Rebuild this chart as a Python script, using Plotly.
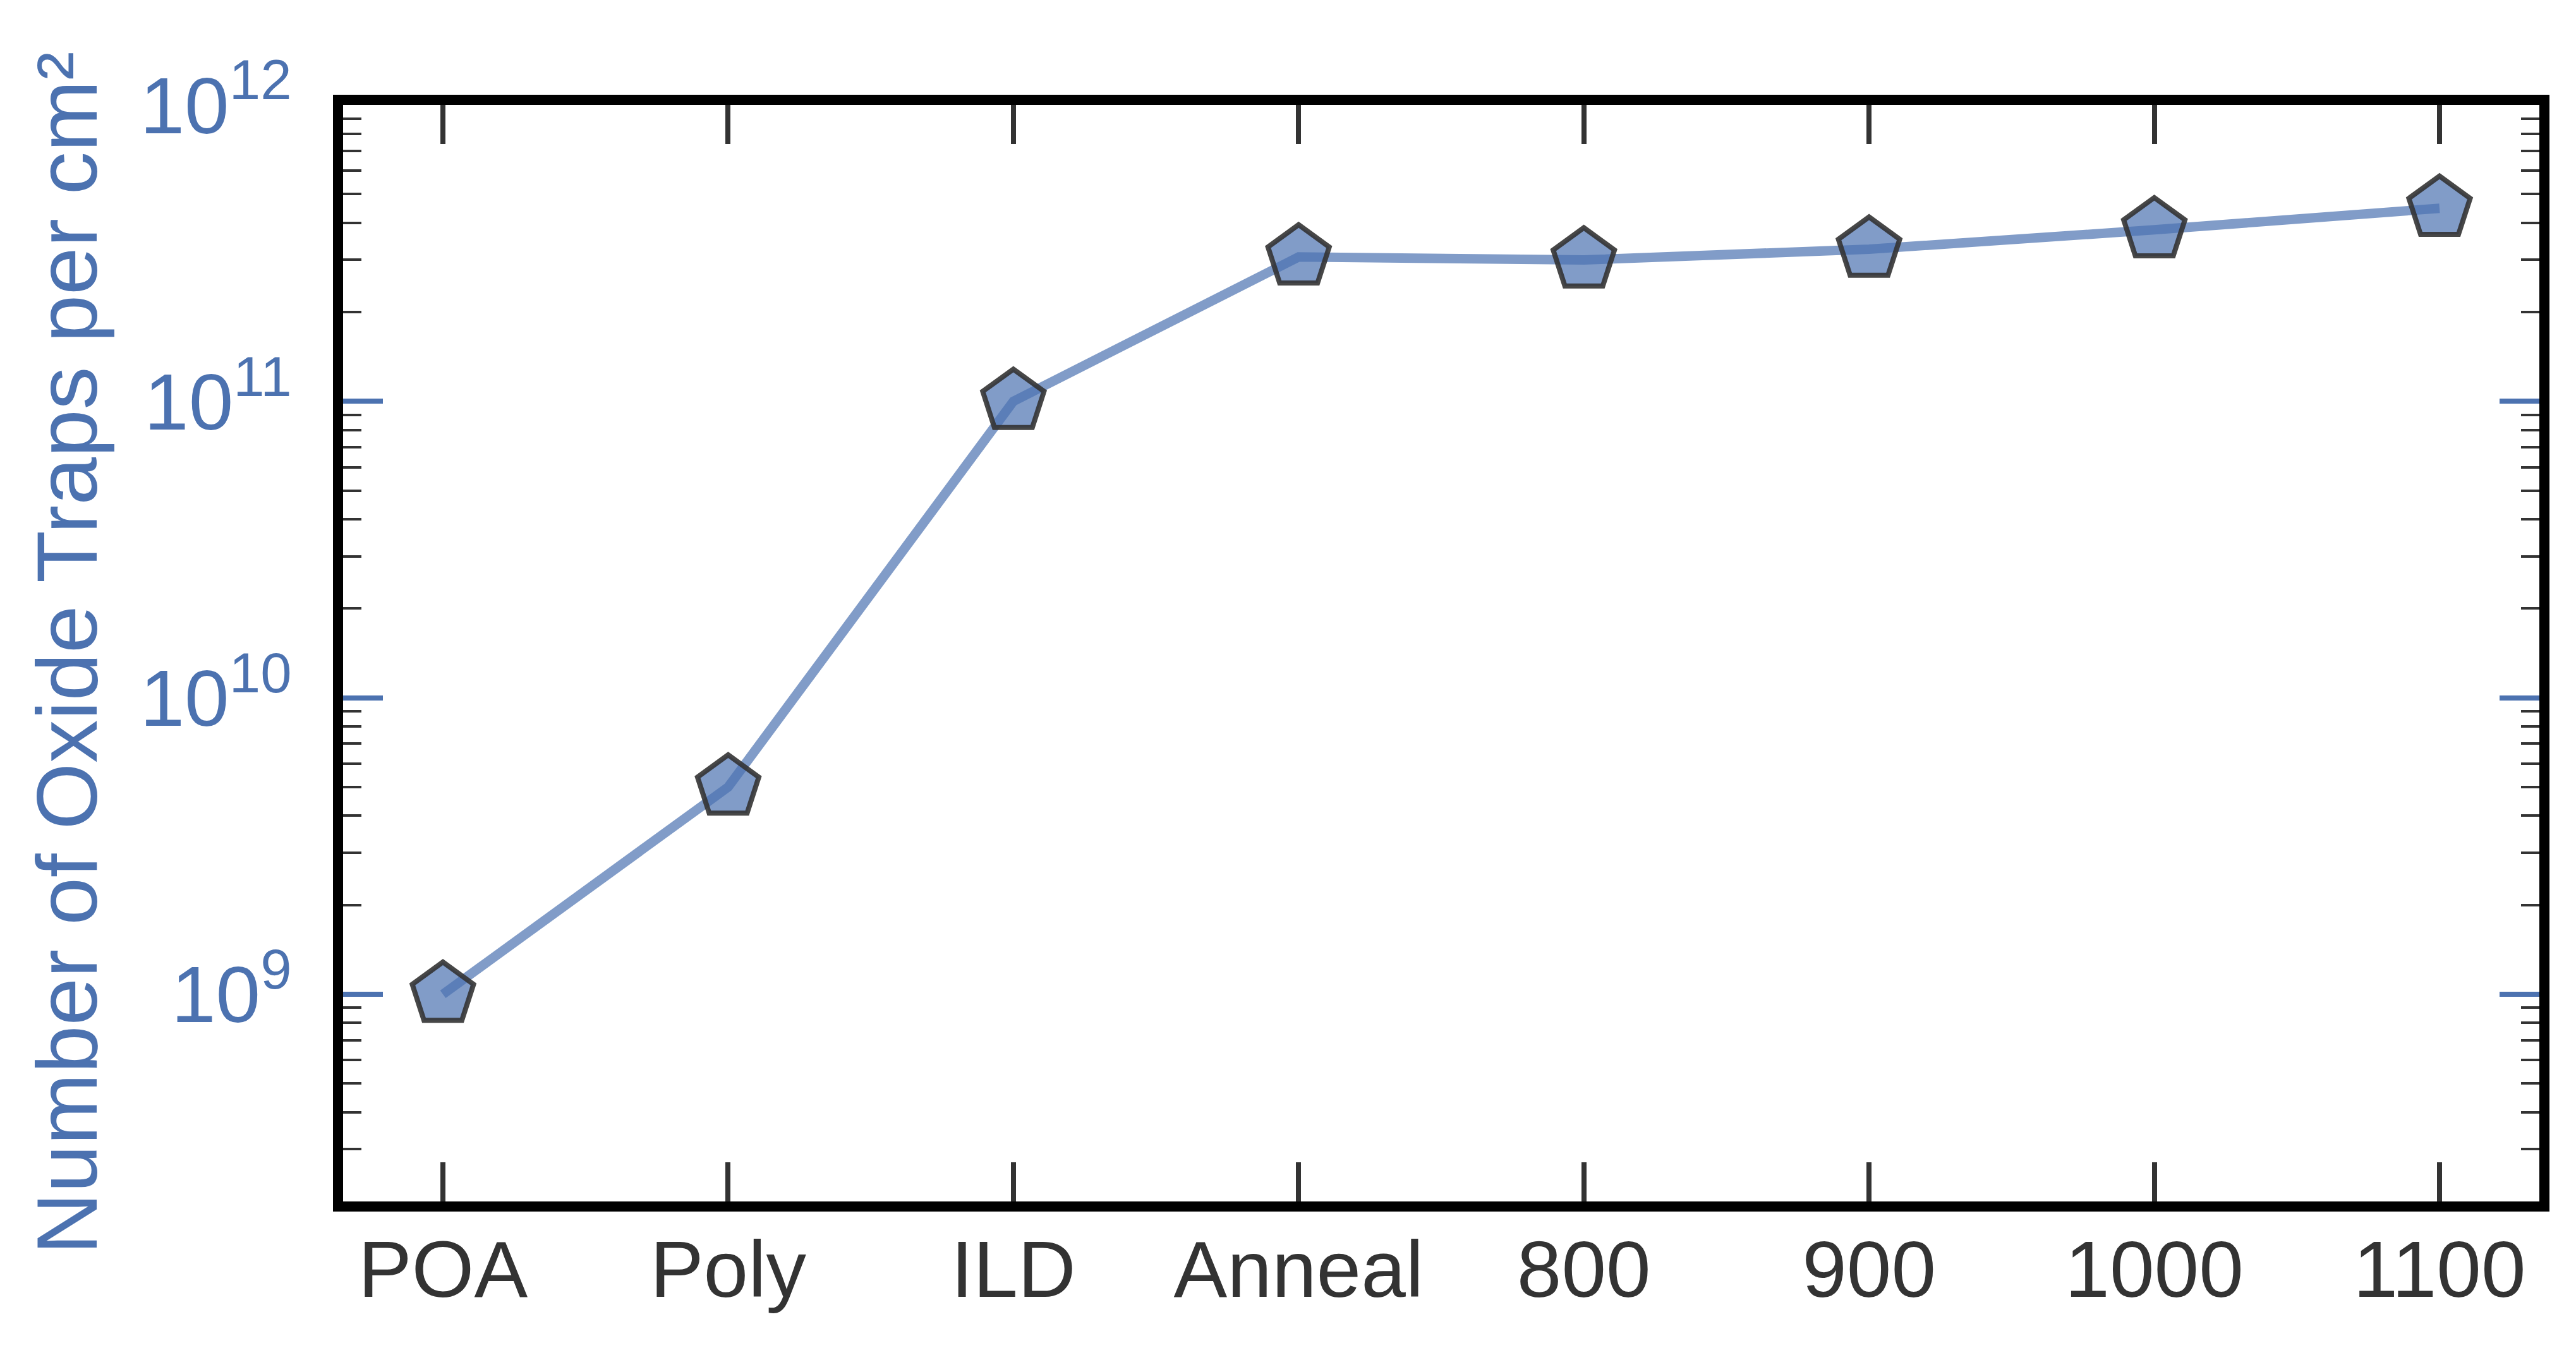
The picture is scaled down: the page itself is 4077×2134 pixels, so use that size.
import math
import plotly.graph_objects as go

# process steps on the x axis
steps = ["POA", "Poly", "ILD", "Anneal", "800", "900", "1000", "1100"]
# oxide trap density (per cm^2)
traps = [1.0e9, 5.0e9, 1.0e11, 3.07e11, 3.0e11, 3.26e11, 3.79e11, 4.48e11]

# log axis ticks
major_vals = [1e9, 1e10, 1e11, 1e12]
major_text = ["10<sup>9</sup>", "10<sup>10</sup>", "10<sup>11</sup>", "10<sup>12</sup>"]
minor_vals = [m * 10.0 ** e for e in range(8, 12) for m in range(2, 10)]

BLUE = "#4c72b0"
GRAY = "#333333"
FONT = "Liberation Sans, Arial, sans-serif"

fig = go.Figure()
fig.add_trace(go.Scatter(
    x=list(range(len(steps))), y=traps, mode="lines+markers",
    line=dict(color="rgba(76,114,176,0.7)", width=15),
    marker=dict(symbol="pentagon", size=102, color="rgba(76,114,176,0.7)",
                line=dict(color="rgba(51,51,51,0.9)", width=8)),
    showlegend=False,
))

fig.update_xaxes(
    range=[-0.35, 7.35], tickmode="array", tickvals=list(range(len(steps))), ticktext=steps,
    ticks="inside", ticklen=62, tickwidth=8, tickcolor=GRAY,
    showline=True, linewidth=16, linecolor="black", mirror="ticks",
    showgrid=False, zeroline=False,
    tickfont=dict(family=FONT, size=127, color=GRAY), ticklabelstandoff=-17,
)
fig.update_yaxes(
    type="log", range=[math.log10(2e8), 12.0002],
    tickmode="array", tickvals=major_vals, ticktext=major_text,
    ticks="inside", ticklen=63, tickwidth=8, tickcolor=BLUE,
    minor=dict(tickmode="array", tickvals=minor_vals, ticks="inside", ticklen=29,
               tickwidth=4, tickcolor=GRAY, showgrid=False),
    showline=True, linewidth=16, linecolor="black", mirror="ticks",
    showgrid=False, zeroline=False,
    tickfont=dict(family=FONT, size=127, color=BLUE), ticklabelstandoff=40,
    title=dict(text="Number of Oxide Traps per cm²", standoff=29,
               font=dict(family=FONT, size=136, color=BLUE)),
)
fig.update_layout(
    width=4077, height=2134,
    margin=dict(l=535, r=66, t=158, b=240, autoexpand=False),
    plot_bgcolor="white", paper_bgcolor="white",
)
fig.write_html("out.html")
